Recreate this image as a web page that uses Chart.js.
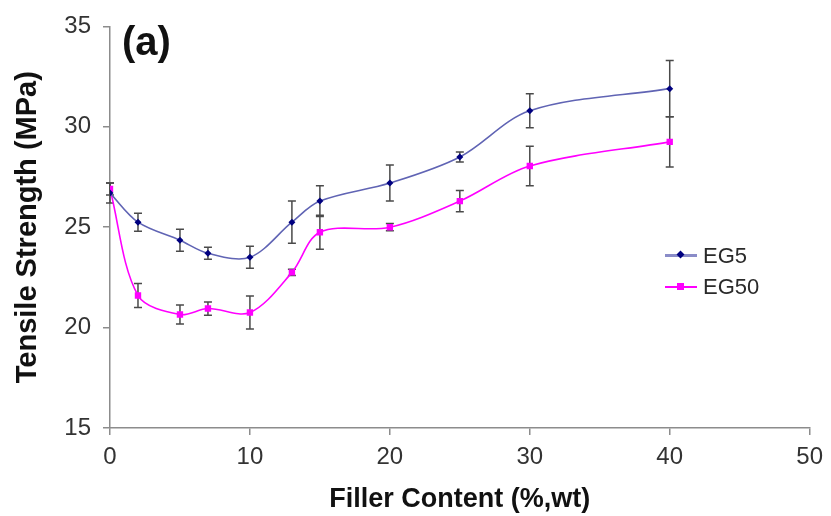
<!DOCTYPE html>
<html>
<head>
<meta charset="utf-8">
<script src="https://cdn.jsdelivr.net/npm/chart.js@4.4.1/dist/chart.umd.min.js"></script>
<style>
  html, body { margin: 0; padding: 0; background: #fff; }
  .wrap { position: relative; width: 831px; height: 516px; font-family: 'Liberation Sans', Arial, sans-serif; }
  canvas { position: absolute; left: 0; top: 0; }
  .panel { position: absolute; left: 122px; top: 21px; font-size: 40px; font-weight: bold; color: #111; line-height: 1; }
  .legend { position: absolute; left: 665px; top: 240px; font-size: 22px; color: #2a2a2a; }
  .legend .row { display: flex; align-items: center; height: 31px; }
  .legend .key { position: relative; width: 32px; height: 2px; margin-right: 6px; }
  .legend .key i { position: absolute; left: 12px; top: -3px; width: 7px; height: 7px; }
</style>
</head>
<body>
<div class="wrap">
  <canvas id="chart" width="831" height="516"></canvas>
  <div class="panel">(a)</div>
  <div class="legend">
    <div class="row"><span class="key" style="background:#8a8cc8;height:3px"><i style="background:#000080;transform:rotate(45deg) scale(0.8)"></i></span>EG5</div>
    <div class="row"><span class="key" style="background:#ff00ff"><i style="background:#ff00ff"></i></span>EG50</div>
  </div>
</div>
<script>
const filler = [0, 2, 5, 7, 10, 13, 15, 20, 25, 30, 40];
const eg5 = [26.7, 25.25, 24.35, 23.7, 23.5, 25.25, 26.3, 27.2, 28.5, 30.8, 31.9];
const eg5Err = [0.5, 0.45, 0.55, 0.3, 0.55, 1.05, 0.77, 0.9, 0.25, 0.85, 1.4];
const eg50 = [26.9, 21.6, 20.65, 20.95, 20.75, 22.75, 24.75, 25.0, 26.3, 28.05, 29.25];
const eg50Err = [0.3, 0.6, 0.47, 0.33, 0.82, 0.15, 0.85, 0.18, 0.53, 0.98, 1.25];

const xTicks = [0, 10, 20, 30, 40, 50];
const yTicks = [15, 20, 25, 30, 35];

const points = (ys) => filler.map((x, i) => ({ x, y: ys[i] }));

const errorBars = {
  id: 'errorBars',
  beforeDatasetsDraw(chart) {
    const { ctx, scales: { x, y } } = chart;
    ctx.save();
    ctx.strokeStyle = '#4a4a4a';
    ctx.lineWidth = 1.5;
    chart.data.datasets.forEach((ds) => {
      ds.data.forEach((p, i) => {
        const e = ds.errors[i];
        const px = x.getPixelForValue(p.x);
        const top = y.getPixelForValue(p.y + e);
        const bot = y.getPixelForValue(p.y - e);
        ctx.beginPath();
        ctx.moveTo(px, top); ctx.lineTo(px, bot);
        ctx.moveTo(px - 4, top); ctx.lineTo(px + 4, top);
        ctx.moveTo(px - 4, bot); ctx.lineTo(px + 4, bot);
        ctx.stroke();
      });
    });
    ctx.restore();
  }
};

new Chart(document.getElementById('chart'), {
  type: 'line',
  data: {
    datasets: [
      {
        label: 'EG5',
        data: points(eg5),
        errors: eg5Err,
        borderColor: '#6064b4',
        borderWidth: 1.6,
        pointStyle: 'rectRot',
        pointRadius: 3.5,
        pointBackgroundColor: '#000080',
        pointBorderColor: '#000080',
        pointBorderWidth: 0,
        tension: 0.33
      },
      {
        label: 'EG50',
        data: points(eg50),
        errors: eg50Err,
        borderColor: '#ff00ff',
        borderWidth: 1.6,
        pointStyle: 'rect',
        pointRadius: 4.5,
        pointBackgroundColor: '#ff00ff',
        pointBorderColor: '#ff00ff',
        pointBorderWidth: 0,
        tension: 0.33
      }
    ]
  },
  options: {
    responsive: false,
    animation: false,
    layout: { autoPadding: false, padding: { top: 23, right: 18, left: 0, bottom: 0 } },
    plugins: { legend: { display: false }, tooltip: { enabled: false } },
    scales: {
      x: {
        type: 'linear',
        min: 0,
        max: 50,
        afterBuildTicks: (scale) => { scale.ticks = xTicks.map((v) => ({ value: v })); },
        afterFit: (scale) => { scale.height = 88; },
        grid: { drawOnChartArea: false, tickLength: 7, color: '#8c8c8c', lineWidth: 1.5 },
        border: { color: '#8c8c8c', width: 1.5 },
        ticks: { color: '#333', padding: 8, font: { family: 'Liberation Sans', size: 24 } },
        title: {
          display: true,
          text: 'Filler Content (%,wt)',
          color: '#111',
          padding: { top: 0, bottom: 0 },
          font: { family: 'Liberation Sans', size: 27, weight: 'bold' }
        }
      },
      y: {
        min: 15,
        max: 35,
        afterBuildTicks: (scale) => { scale.ticks = yTicks.map((v) => ({ value: v })); },
        afterFit: (scale) => { scale.width = 110; },
        grid: { drawOnChartArea: false, tickLength: 7, color: '#8c8c8c', lineWidth: 1.5 },
        border: { color: '#8c8c8c', width: 1.5 },
        ticks: { color: '#333', padding: 12, font: { family: 'Liberation Sans', size: 24 } },
        title: {
          display: true,
          text: 'Tensile Strength (MPa)',
          color: '#111',
          padding: { top: 11, bottom: 0 },
          font: { family: 'Liberation Sans', size: 29, weight: 'bold' }
        }
      }
    }
  },
  plugins: [errorBars]
});
</script>
</body>
</html>
